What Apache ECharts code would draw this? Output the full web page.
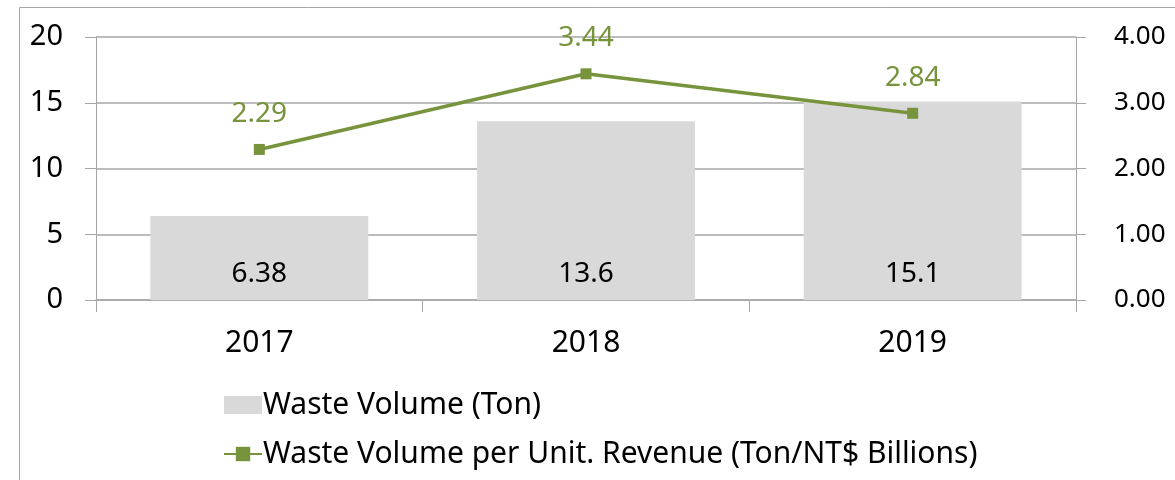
<!DOCTYPE html>
<html>
<head>
<meta charset="utf-8">
<script src="https://cdn.jsdelivr.net/npm/echarts@6/dist/echarts.min.js"></script>
<style>
  html, body { margin: 0; padding: 0; background: #fff; }
  #chart { width: 1175px; height: 480px; }
</style>
</head>
<body>
<div id="chart"></div>
<script>
// data
const years = ['2017', '2018', '2019']
const wasteVolume = [6.38, 13.6, 15.1]
const wastePerRevenue = [2.29, 3.44, 2.84]
const leftTicks = [0, 5, 10, 15, 20]
const rightTicks = [0, 1, 2, 3, 4]

const barName = 'Waste Volume (Ton)'
const lineName = 'Waste Volume per Unit. Revenue (Ton/NT$ Billions)'
const font = '"Noto Sans", "Open Sans", sans-serif'
const axisGray = '#a6a6a6'

const chart = echarts.init(document.getElementById('chart'))
const option = {
  animation: false,
  textStyle: { fontFamily: font, color: '#000' },
  graphic: [
    {
      type: 'rect',
      shape: { x: 19.5, y: 7.5, width: 1200, height: 500 },
      style: { fill: 'none', stroke: '#a6a6a6', lineWidth: 1 },
      silent: true
    }
  ],
  grid: { left: 96, right: 99, top: 37, bottom: 180 },
  legend: {
    orient: 'vertical',
    left: 218,
    top: 385,
    itemGap: 19,
    itemWidth: 38,
    itemHeight: 18,
    textStyle: { fontSize: 30, lineHeight: 30, color: '#000', fontFamily: font, padding: [0, 0, 0, -4] },
    data: [
      { name: barName, icon: 'rect' },
      { name: lineName }
    ]
  },
  xAxis: {
    type: 'category',
    data: years,
    axisLine: { lineStyle: { color: axisGray, width: 1.5 } },
    axisTick: { show: true, length: 12, lineStyle: { color: axisGray } },
    axisLabel: { fontSize: 30, color: '#000', margin: 28 }
  },
  yAxis: [
    {
      type: 'value',
      min: 0,
      max: 20,
      interval: 5,
      axisLine: { show: true, lineStyle: { color: axisGray } },
      axisTick: { show: true, inside: false, length: 11, lineStyle: { color: axisGray } },
      splitLine: { lineStyle: { color: axisGray, width: 1.5 } },
      axisLabel: {
        fontSize: 29,
        color: '#000',
        margin: 33,
        formatter: v => leftTicks.includes(v) ? String(v) : ''
      }
    },
    {
      type: 'value',
      min: 0,
      max: 4,
      interval: 1,
      position: 'right',
      axisLine: { show: true, lineStyle: { color: axisGray } },
      axisTick: { show: true, length: 10, lineStyle: { color: axisGray } },
      splitLine: { show: false },
      axisLabel: {
        fontSize: 26,
        color: '#000',
        margin: 38,
        formatter: v => rightTicks.includes(v) ? v.toFixed(2) : ''
      }
    }
  ],
  series: [
    {
      name: barName,
      type: 'bar',
      data: wasteVolume,
      barWidth: '66.7%',
      itemStyle: { color: '#d9d9d9' },
      label: {
        show: true,
        position: 'insideBottom',
        distance: 12,
        fontSize: 28,
        color: '#000',
        fontFamily: font
      }
    },
    {
      name: lineName,
      type: 'line',
      yAxisIndex: 1,
      data: wastePerRevenue,
      symbol: 'rect',
      symbolSize: 11,
      lineStyle: { color: '#77933c', width: 3.5 },
      itemStyle: { color: '#77933c' },
      label: {
        show: true,
        position: 'top',
        distance: 16,
        fontSize: 28,
        color: '#77933c',
        fontFamily: font,
        formatter: p => p.value.toFixed(2)
      }
    }
  ]
}
chart.setOption(option)
</script>
</body>
</html>
